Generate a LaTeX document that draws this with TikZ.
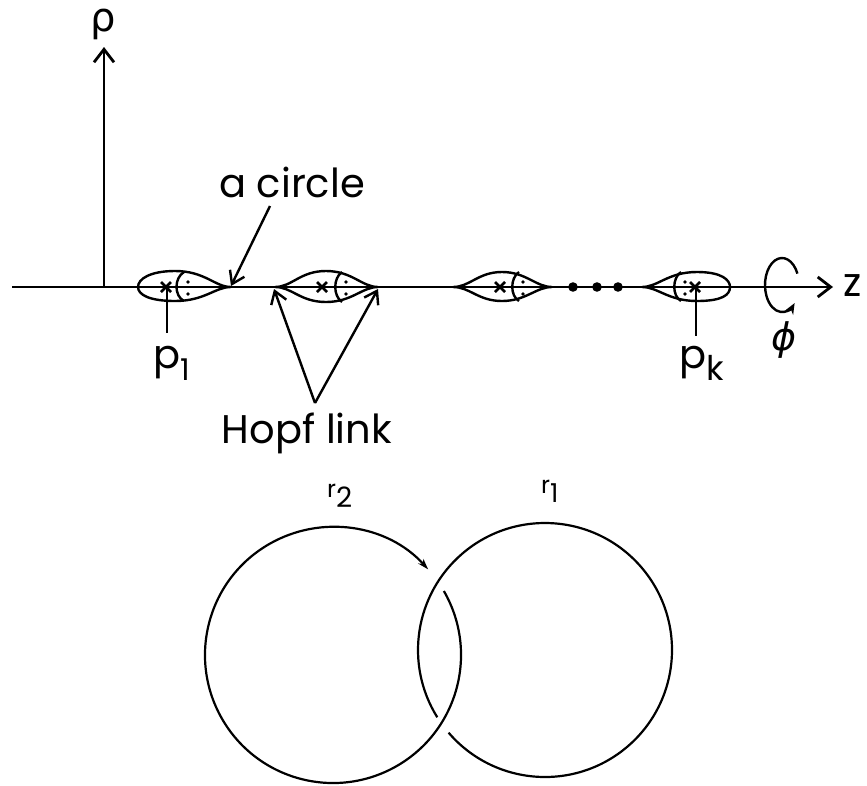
\documentclass[tikz,border=0pt]{standalone}
\usepackage{fontspec}
\setmainfont{Poppins}
\newfontfamily\greekf{DejaVu Sans}
\usetikzlibrary{arrows.meta,calc}
\tikzset{
  axis/.style={line width=2.8pt,-{Straight Barb[length=13pt,width=20pt,line width=2.8pt]}},
  lens/.style={line width=2.4pt},
  ptr/.style={line width=2.4pt,-{Straight Barb[length=12pt,width=16pt,line width=2.4pt]}},
  ring/.style={line width=2.2pt},
  lbl/.style={inner sep=0pt,font=\fontsize{40}{48}\selectfont},
  crossmark/.style={line width=2.6pt},
}
\newcommand{\xmark}[1]{\draw[crossmark] ($#1+(-5,-5)$) -- ($#1+(5,5)$) ($#1+(-5,5)$) -- ($#1+(5,-5)$);}
\begin{document}
\begin{tikzpicture}[x=1pt,y=-1pt]
\useasboundingbox (0,0) rectangle (867,785);
% axes
\coordinate (zs) at (12,287);
\coordinate (ze) at (833,287);
\coordinate (o) at (104,287);
\coordinate (rt) at (104,47);
% rotation arrow
\draw[line width=2.4pt,-{Stealth[length=11pt,width=9pt]}] (782,285) ++(-25:17 and 27) arc[start angle=-25,end angle=-318,x radius=17,y radius=27];
\draw[axis] (zs) -- (ze);
\draw[axis] (o) -- (rt);
\node[lbl,anchor=center] (zl) at (853,286) {z};
\node[inner sep=0pt] (rho) at (103,24) {\greekf\fontsize{40}{48}\selectfont ρ};
\node[inner sep=0pt] (phi) at (784,340) {\greekf\itshape\fontsize{38}{44}\selectfont ϕ};
% lens 1
\draw[lens] (231,287) .. controls (215,287) and (205,271) .. (175,271) .. controls (150,271) and (138,279) .. (138,287) .. controls (138,295) and (150,301) .. (175,301) .. controls (205,301) and (215,287) .. (231,287);
\draw[lens] (184,272) .. controls (174,278) and (174,296) .. (184,301);
\fill (188,282) circle (1.8) (188,294) circle (1.8);
\xmark{(166,287)}
% lens 2
\draw[lens] (275,287) .. controls (292,287) and (300,271) .. (326,271) .. controls (352,271) and (362,287) .. (378,287) .. controls (362,287) and (352,302) .. (326,302) .. controls (300,302) and (292,287) .. (275,287);
\draw[lens] (342,272) .. controls (333,278) and (333,296) .. (342,302);
\fill (346,282) circle (1.8) (346,294) circle (1.8);
\xmark{(322,287)}
% lens 3
\draw[lens] (453,287) .. controls (470,287) and (478,272) .. (502,272) .. controls (526,272) and (536,287) .. (552,287) .. controls (536,287) and (526,301) .. (502,301) .. controls (478,301) and (470,287) .. (453,287);
\draw[lens] (519,272) .. controls (510,278) and (510,296) .. (519,301);
\fill (523,282) circle (1.8) (523,294) circle (1.8);
\xmark{(500,287)}
% dots
\fill (573,287) circle (4.8) (597,287) circle (4.8) (618,287) circle (4.8);
% lens 4
\draw[lens] (642,287) .. controls (658,287) and (668,272) .. (697,272) .. controls (722,272) and (730,280) .. (730,287) .. controls (730,295) and (722,301) .. (697,301) .. controls (668,301) and (658,287) .. (642,287);
\draw[lens] (681,272) .. controls (672,278) and (672,296) .. (681,301);
\fill (685,282) circle (1.8) (685,294) circle (1.8);
\xmark{(695,287)}
% pointers
\coordinate (p1top) at (167,289);
\coordinate (p1bot) at (167,333);
\coordinate (pktop) at (696,289);
\coordinate (pkbot) at (696,336);
\draw[line width=2.4pt] (p1top) -- (p1bot);
\draw[line width=2.4pt] (pktop) -- (pkbot);
\node[lbl,anchor=base west] (p1) at (153,368) {p\raisebox{-0.3em}{\fontsize{30}{36}\selectfont 1}};
\node[lbl,anchor=base west] (pk) at (679,368) {p\raisebox{-0.3em}{\fontsize{34}{40}\selectfont k}};
% a circle
\node[lbl,anchor=base] (ac) at (292,197) {a circle};
\coordinate (acs) at (270,206);
\coordinate (act) at (231,286);
\draw[ptr] (acs) -- (act);
% Hopf link
\node[lbl,anchor=base] (hl) at (307,443) {Hopf link};
\coordinate (apex) at (315,403);
\coordinate (h1) at (274,289);
\coordinate (h2) at (378,289);
\draw[ptr] (apex) -- (h1);
\draw[ptr] (apex) -- (h2);
% Hopf link circles
\coordinate (c2) at (333,655);
\coordinate (c1) at (545,650);
\draw[ring,-{Stealth[length=11pt,width=7pt]}] (c2) ++(-30:128) arc[start angle=-30,end angle=318,radius=128];
\draw[ring] (c1) ++(-220.6:127) arc[start angle=-220.6,end angle=-572,radius=127];
\node[inner sep=0pt,anchor=base west] (r2) at (327,497) {\fontsize{24}{28}\selectfont r\raisebox{-0.45em}{\fontsize{28}{32}\selectfont 2}};
\node[inner sep=0pt,anchor=base west] (r1) at (541,493) {\fontsize{24}{28}\selectfont r\raisebox{-0.4em}{\fontsize{26}{32}\selectfont 1}};
\end{tikzpicture}
\end{document}
